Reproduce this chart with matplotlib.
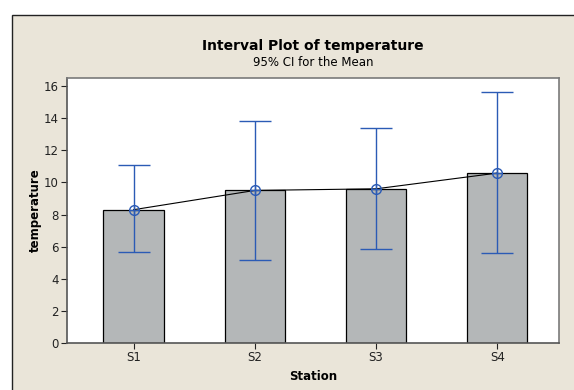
import matplotlib.pyplot as plt
from matplotlib.patches import Rectangle

stations = ["S1", "S2", "S3", "S4"]
means = [8.30, 9.50, 9.60, 10.58]
ci_lower = [5.65, 5.17, 5.86, 5.61]
ci_upper = [11.06, 13.83, 13.39, 15.61]
yticks = [0, 2, 4, 6, 8, 10, 12, 14, 16]

BG = "#EAE5D9"
BLUE = "#2B5BB5"

fig = plt.figure(figsize=(5.74, 3.90), dpi=100)
fig.patch.set_facecolor("white")

# framed beige panel behind the plot, running off the right and bottom edges
W, H = 574, 390
panel = Rectangle((12 / W, -0.05), 1.1, 1.05 - 15 / H, transform=fig.transFigure,
                  facecolor=BG, edgecolor="#222222", linewidth=1.0, zorder=-10)
fig.patches.append(panel)

ax = fig.add_axes([67 / W, (H - 343) / H, (559 - 67) / W, (343 - 78) / H])
ax.set_facecolor("white")

x = list(range(len(stations)))
ax.bar(x, means, width=0.5, color="#B4B7B8", edgecolor="black", linewidth=0.9, zorder=2)

yerr = [[m - lo for m, lo in zip(means, ci_lower)],
        [hi - m for m, hi in zip(means, ci_upper)]]
ax.errorbar(x, means, yerr=yerr, fmt="none", ecolor=BLUE, elinewidth=1.0,
            capsize=11.5, capthick=1.0, zorder=3)
ax.plot(x, means, color="black", linewidth=0.8, zorder=4)
ax.plot(x, means, linestyle="none", marker="o", markersize=7, markerfacecolor="none",
        markeredgecolor=BLUE, markeredgewidth=1.0, zorder=5)
ax.plot(x, means, linestyle="none", marker="+", markersize=7, markeredgecolor=BLUE,
        markeredgewidth=1.0, zorder=5)

ax.set_xlim(-0.55, 3.51)
ax.set_ylim(0, 16.5)
ax.set_xticks(x)
ax.set_xticklabels(stations)
ax.set_yticks(yticks)
ax.tick_params(direction="out", length=4, width=0.8, labelsize=8.5, colors="#222222",
               pad=2)

for side in ["top", "right"]:
    ax.spines[side].set_color("#7A7A7A")
    ax.spines[side].set_linewidth(1.2)
for side in ["left", "bottom"]:
    ax.spines[side].set_color("#555555")
    ax.spines[side].set_linewidth(1.2)

ax.set_xlabel("Station", fontsize=8.5, fontweight="bold", labelpad=4)
ax.set_ylabel("temperature", fontsize=8.5, fontweight="bold", labelpad=1)

fig.text((67 + 559) / 2 / W, 1 - 46 / H, "Interval Plot of temperature",
         ha="center", va="center", fontsize=10, fontweight="bold")
fig.text((67 + 559) / 2 / W, 1 - 62 / H, "95% CI for the Mean",
         ha="center", va="center", fontsize=8.5)

fig.savefig("out.png", dpi=100, facecolor=fig.get_facecolor())
